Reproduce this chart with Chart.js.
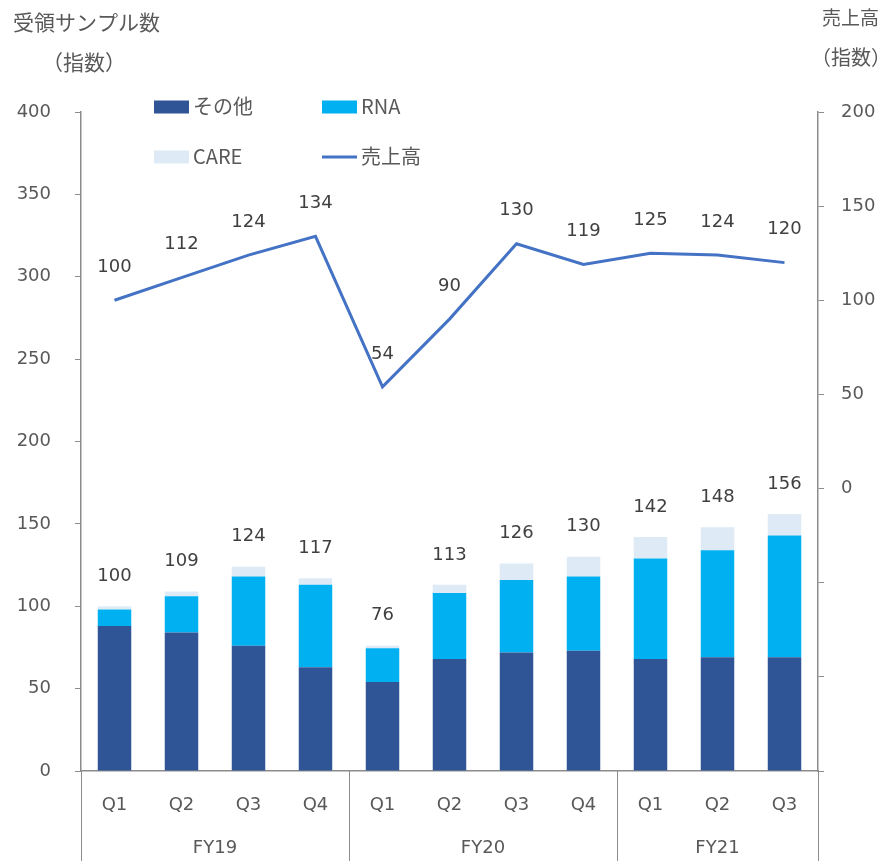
<!DOCTYPE html>
<html>
<head>
<meta charset="utf-8">
<script src="https://cdn.jsdelivr.net/npm/chart.js@4/dist/chart.umd.min.js"></script>
<style>
  html, body { margin: 0; padding: 0; background: #fff; }
  #wrap { width: 886px; height: 861px; position: relative; }
</style>
</head>
<body>
<div id="wrap"><canvas id="chart" width="886" height="861"></canvas></div>
<script>
// data
const quarters = ["Q1", "Q2", "Q3", "Q4", "Q1", "Q2", "Q3", "Q4", "Q1", "Q2", "Q3"];
const fiscalYears = ["FY19", "FY20", "FY21"];
const fyGroupSize = [4, 4, 3];
const otherValues = [88, 84, 76, 63, 54, 68, 72, 73, 68, 69, 69];
const rnaValues = [10, 22, 42, 50, 20.5, 40, 44, 45, 61, 65, 74];
const careValues = [2, 3, 6, 4, 1.5, 5, 10, 12, 13, 14, 13];
const salesValues = [100, 112, 124, 134, 54, 90, 130, 119, 125, 124, 120];

const TEXT = "#595959";
const AXIS = "#8c8c8c";
const NUM_FONT = "'DejaVu Sans', Verdana, sans-serif";
const JP_FONT = "'Noto Sans CJK JP', sans-serif";

// labels, legend, group axis
const extras = {
  id: "extras",
  afterDraw(chart) {
    const ctx = chart.ctx;
    const x = chart.scales.x;
    const area = chart.chartArea;
    ctx.save();

    // totals above bars
    ctx.fillStyle = "#404040";
    ctx.font = "18px " + NUM_FONT;
    ctx.textAlign = "center";
    ctx.textBaseline = "middle";
    const topMeta = chart.getDatasetMeta(2);
    topMeta.data.forEach((bar, i) => {
      const total = otherValues[i] + rnaValues[i] + careValues[i];
      ctx.fillText(Math.round(total), bar.x, bar.y - 30);
    });

    // line labels
    const lineMeta = chart.getDatasetMeta(3);
    lineMeta.data.forEach((pt, i) => {
      ctx.fillText(salesValues[i], pt.x, pt.y - 33);
    });

    // FY separators and labels
    ctx.strokeStyle = AXIS;
    ctx.lineWidth = 1;
    const step = x.getPixelForTick(1) - x.getPixelForTick(0);
    let idx = 0;
    const bounds = [area.left];
    fyGroupSize.forEach(n => {
      idx += n;
      bounds.push(x.getPixelForTick(idx - 1) + step / 2);
    });
    bounds[bounds.length - 1] = area.right;
    bounds.forEach(bx => {
      ctx.beginPath();
      ctx.moveTo(Math.round(bx) + 0.5, area.bottom);
      ctx.lineTo(Math.round(bx) + 0.5, chart.height);
      ctx.stroke();
    });
    ctx.fillStyle = TEXT;
    ctx.font = "18px " + NUM_FONT;
    fiscalYears.forEach((fy, i) => {
      ctx.fillText(fy, (bounds[i] + bounds[i + 1]) / 2, 848);
    });

    // axis titles
    ctx.textAlign = "left";
    ctx.font = "21px " + JP_FONT;
    ctx.fillText("受領サンプル数", 13, 22);
    ctx.fillText("（指数）", 42, 62);
    ctx.font = "19px " + JP_FONT;
    ctx.fillText("売上高", 822, 18);
    ctx.font = "20px " + JP_FONT;
    ctx.fillText("（指数）", 811, 57);

    // legend
    const items = [
      { ds: 0, x: 154, y: 107, type: "box" },
      { ds: 1, x: 322, y: 107, type: "box" },
      { ds: 2, x: 154, y: 157, type: "box" },
      { ds: 3, x: 322, y: 157, type: "line" }
    ];
    items.forEach(it => {
      const d = chart.data.datasets[it.ds];
      if (it.type === "box") {
        ctx.fillStyle = d.backgroundColor;
        ctx.fillRect(it.x, it.y - 6.5, 35, 13);
      } else {
        ctx.strokeStyle = d.borderColor;
        ctx.lineWidth = 3;
        ctx.beginPath();
        ctx.moveTo(it.x, it.y);
        ctx.lineTo(it.x + 35, it.y);
        ctx.stroke();
      }
      ctx.fillStyle = TEXT;
      ctx.font = "20px " + JP_FONT;
      ctx.fillText(d.label, it.x + 39, it.y - 1);
    });

    ctx.restore();
  }
};

new Chart(document.getElementById("chart"), {
  data: {
    labels: quarters,
    datasets: [
      { type: "bar", label: "その他", data: otherValues, backgroundColor: "#2f5597", yAxisID: "y", order: 1, barPercentage: 0.5, categoryPercentage: 1 },
      { type: "bar", label: "RNA", data: rnaValues, backgroundColor: "#00b0f0", yAxisID: "y", order: 1, barPercentage: 0.5, categoryPercentage: 1 },
      { type: "bar", label: "CARE", data: careValues, backgroundColor: "#deebf7", yAxisID: "y", order: 1, barPercentage: 0.5, categoryPercentage: 1 },
      { type: "line", label: "売上高", data: salesValues, borderColor: "#4472c4", borderWidth: 3, pointRadius: 0, tension: 0, yAxisID: "y1", order: 0 }
    ]
  },
  options: {
    responsive: false,
    animation: false,
    layout: { padding: { top: 112, left: 0, right: 0, bottom: 0 } },
    plugins: { legend: { display: false }, tooltip: { enabled: false } },
    scales: {
      x: {
        stacked: true,
        grid: { display: false },
        border: { color: AXIS, width: 1.5 },
        ticks: { color: TEXT, font: { family: NUM_FONT, size: 18 }, padding: 16 },
        afterFit(s) { s.height = 90; }
      },
      y: {
        stacked: true,
        position: "left",
        min: 0,
        max: 400,
        ticks: { stepSize: 50, color: TEXT, font: { family: NUM_FONT, size: 18 }, padding: 24 },
        grid: { drawOnChartArea: false, drawTicks: true, tickLength: 6, color: AXIS },
        border: { color: AXIS, width: 1.5 },
        afterFit(s) { s.width = 81; }
      },
      y1: {
        position: "right",
        min: -150,
        max: 200,
        ticks: {
          stepSize: 50, color: TEXT, font: { family: NUM_FONT, size: 18 }, padding: 17,
          callback: v => (v < 0 ? "" : v)
        },
        grid: { drawOnChartArea: false, drawTicks: true, tickLength: 6, color: AXIS },
        border: { color: AXIS, width: 1.5 },
        afterFit(s) { s.width = 68; }
      }
    }
  },
  plugins: [extras]
});
</script>
</body>
</html>
